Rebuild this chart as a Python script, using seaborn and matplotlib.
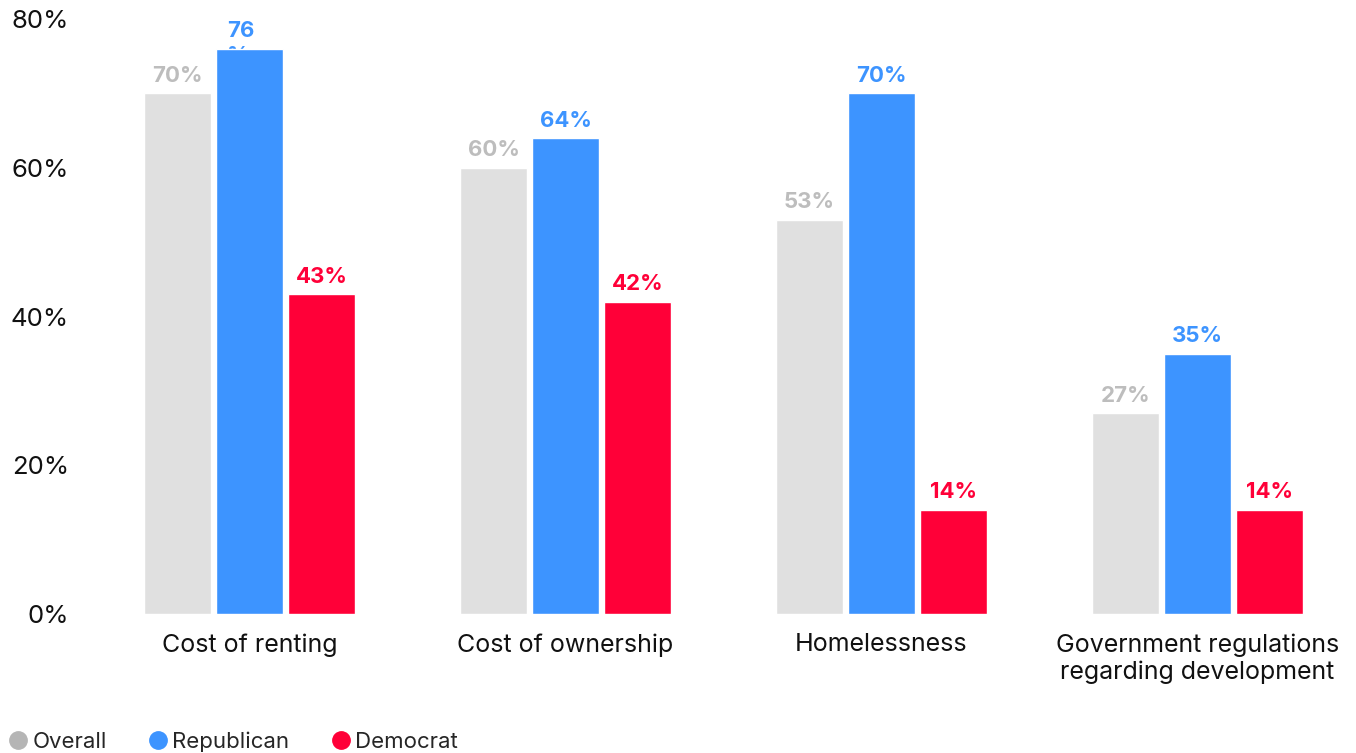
import matplotlib
matplotlib.use("Agg")
import matplotlib.pyplot as plt
from matplotlib.lines import Line2D
import pandas as pd
import seaborn as sns

# data
categories = ["Cost of renting", "Cost of ownership", "Homelessness",
              "Government regulations\nregarding development"]
groups = ["Overall", "Republican", "Democrat"]
overall = [70, 60, 53, 27]
republican = [76, 64, 70, 35]
democrat = [43, 42, 14, 14]

bar_colors = {"Overall": "#E0E0E0", "Republican": "#3D94FF", "Democrat": "#FF0038"}
label_colors = {"Overall": "#BDBDBD", "Republican": "#3D94FF", "Democrat": "#FF0038"}
dot_colors = {"Overall": "#B5B5B5", "Republican": "#3D94FF", "Democrat": "#FF0038"}

df = pd.DataFrame({
    "category": categories * 3,
    "group": [g for g in groups for _ in categories],
    "value": overall + republican + democrat,
})

sns.set_theme(style="white")
plt.rcParams["font.family"] = ["Inter", "DejaVu Sans"]

fig = plt.figure(figsize=(13.56, 7.53), dpi=100)
ax = fig.add_axes([80 / 1356, 139 / 753, 1 - 80 / 1356, 595 / 753])

sns.barplot(data=df, x="category", y="value", hue="group", hue_order=groups,
            palette=bar_colors, width=0.684, gap=0.07, saturation=1,
            legend=False, ax=ax, zorder=2)

ax.set_xlim((80 - 249.5) / 316, (1356 - 249.5) / 316)
ax.set_ylim(0, 80)
ax.set_yticks([0, 20, 40, 60, 80])
ax.set_yticklabels([f"{t}%" for t in [0, 20, 40, 60, 80]], fontsize=18.5, color="#111111")
ax.tick_params(axis="y", length=0, pad=8)
ax.tick_params(axis="x", length=0, pad=14, labelsize=18, labelcolor="#111111")
ax.set_xlabel("")
ax.set_ylabel("")
for lbl in ax.get_xticklabels():
    lbl.set_linespacing(1.2)
sns.despine(ax=ax, left=True, bottom=True)

# value labels above each bar
for cont, g in zip(ax.containers, groups):
    for bar in cont:
        h = bar.get_height()
        x = bar.get_x() + bar.get_width() / 2
        if h > 75:
            # the top label wraps; its "%" drops below and hides behind the bar
            x_left = x - 0.072
            ax.text(x_left, h + 1.0, f"{h:.0f}", ha="left", va="bottom",
                    fontsize=16, fontweight="bold", color=label_colors[g],
                    zorder=3, clip_on=False)
            ax.text(x_left, h + 0.35, "%", ha="left", va="top",
                    fontsize=16, fontweight="bold", color=label_colors[g],
                    zorder=1, clip_on=False)
        else:
            ax.text(x, h + 1.0, f"{h:.0f}%", ha="center", va="bottom",
                    fontsize=16, fontweight="bold", color=label_colors[g],
                    zorder=3, clip_on=False)

handles = [Line2D([], [], marker="o", linestyle="", markersize=12.5,
                  markerfacecolor=dot_colors[g], markeredgecolor=dot_colors[g])
           for g in groups]
fig.legend(handles, groups, loc="lower left", bbox_to_anchor=(-0.004, -0.016),
           ncol=3, frameon=False, fontsize=16, handletextpad=0.2,
           columnspacing=1.85, handlelength=0.9, borderaxespad=0.2)

fig.savefig("out.png", dpi=100)
